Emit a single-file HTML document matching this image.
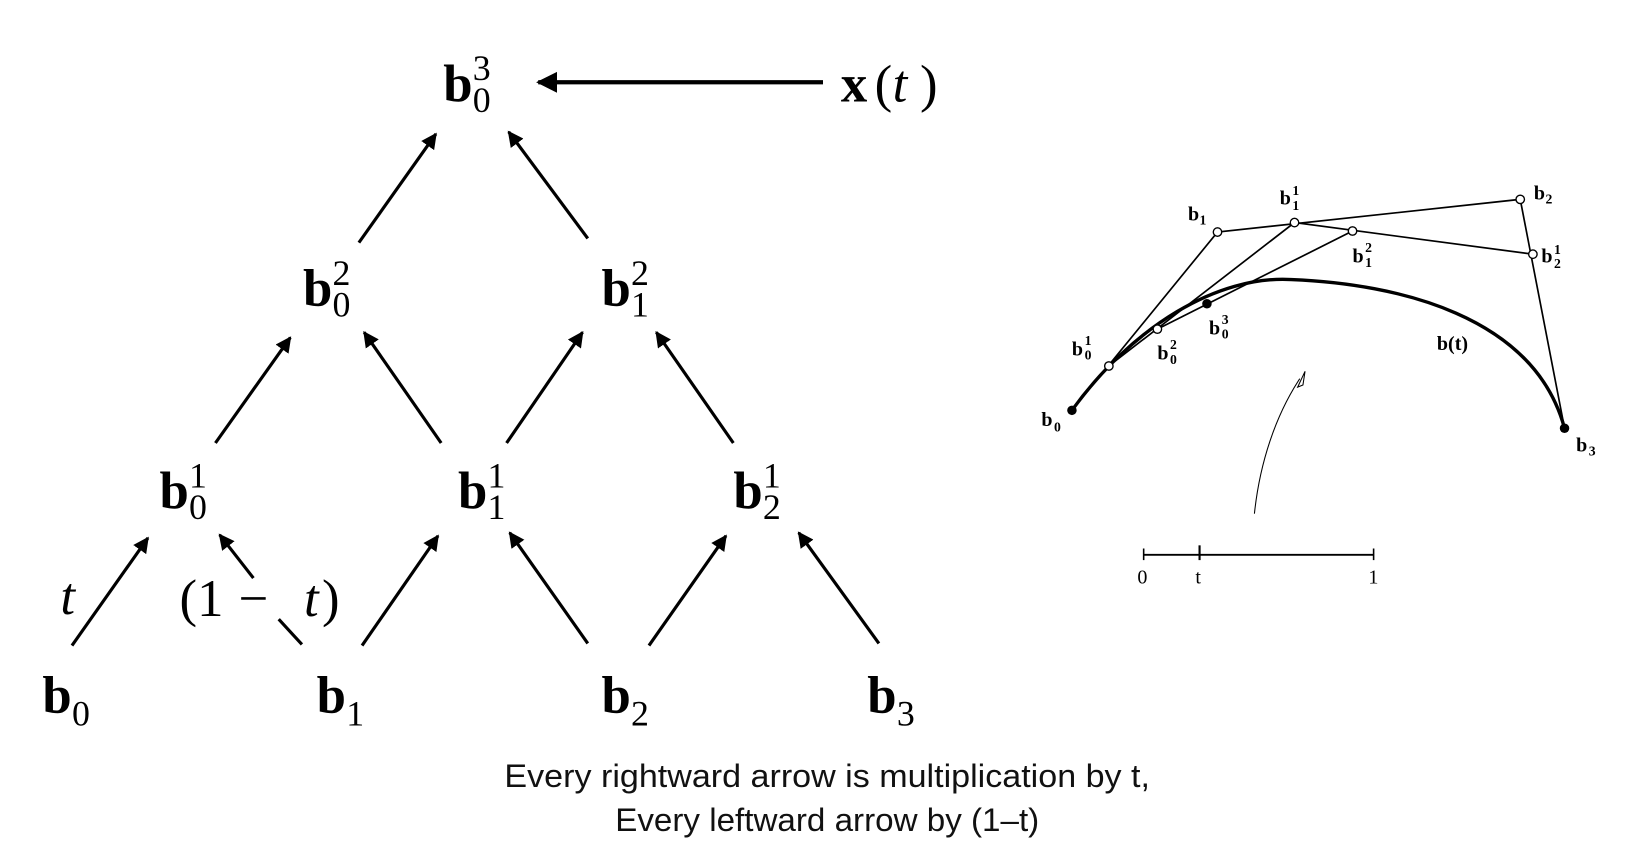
<!DOCTYPE html>
<html><head><meta charset="utf-8"><style>
html,body{margin:0;padding:0;background:#fff;width:1646px;height:866px;overflow:hidden}
svg{display:block}
.b{font-family:"Liberation Serif",serif;font-weight:bold;font-size:50px}
.n{font-family:"Liberation Serif",serif;font-size:34px}
.i{font-family:"Liberation Serif",serif;font-style:italic;font-size:50px}
.r{font-family:"Liberation Serif",serif;font-size:50px}
.sb{font-family:"Liberation Serif",serif;font-weight:bold;font-size:19px}
.ss{font-family:"Liberation Serif",serif;font-weight:bold;font-size:13px}
.cap{font-family:"Liberation Sans",sans-serif;font-size:31px;fill:#111}
</style></head><body>
<svg width="1646" height="866" viewBox="0 0 1560 821" xmlns="http://www.w3.org/2000/svg">
<defs>
<marker id="ah" viewBox="0 0 10 10" refX="9" refY="5" markerWidth="5" markerHeight="5" orient="auto" markerUnits="strokeWidth">
<path d="M0,0 L10,5 L0,10 z" fill="#000"/></marker>
</defs>
<g>
<text class="b" x="420" y="96">b</text><text class="n" x="448" y="76">3</text><text class="n" x="448" y="106">0</text>
<text class="b" x="287" y="290">b</text><text class="n" x="315" y="270">2</text><text class="n" x="315" y="300">0</text>
<text class="b" x="570" y="290">b</text><text class="n" x="598" y="270">2</text><text class="n" x="598" y="300">1</text>
<text class="b" x="151" y="482">b</text><text class="n" x="179" y="462">1</text><text class="n" x="179" y="492">0</text>
<text class="b" x="434" y="482">b</text><text class="n" x="462" y="462">1</text><text class="n" x="462" y="492">1</text>
<text class="b" x="695" y="482">b</text><text class="n" x="723" y="462">1</text><text class="n" x="723" y="492">2</text>
<text class="b" x="40" y="676">b</text><text class="n" x="68" y="688">0</text>
<text class="b" x="300" y="676">b</text><text class="n" x="328" y="688">1</text>
<text class="b" x="570" y="676">b</text><text class="n" x="598" y="688">2</text>
<text class="b" x="822" y="676">b</text><text class="n" x="850" y="688">3</text>
<text class="b" x="797" y="96">x</text><text class="r" x="829" y="96">(</text><text class="i" x="846" y="96">t</text><text class="r" x="872" y="96">)</text>
<text class="i" x="57" y="582">t</text>
<text class="r" x="170" y="584">(1</text><text class="r" x="226" y="584">−</text><text class="i" x="288" y="584">t</text><text class="r" x="305" y="584">)</text>
</g>
<g stroke="#000" stroke-width="3" fill="none" marker-end="url(#ah)">
<line x1="780" y1="78" x2="510" y2="78" stroke-width="4"/>
<line x1="340" y1="230" x2="413" y2="127"/>
<line x1="557" y1="226" x2="482" y2="125"/>
<line x1="204" y1="420" x2="275" y2="320"/>
<line x1="418" y1="420" x2="345" y2="315"/>
<line x1="480" y1="420" x2="552" y2="315"/>
<line x1="695" y1="420" x2="622" y2="315"/>
<line x1="68" y1="612" x2="140" y2="510"/>
<line x1="240" y1="548" x2="208" y2="507"/>
<line x1="343" y1="612" x2="415" y2="508"/>
<line x1="557" y1="610" x2="483" y2="505"/>
<line x1="615" y1="612" x2="688" y2="508"/>
<line x1="833" y1="610" x2="757" y2="505"/>
</g>
<line x1="264" y1="587" x2="286" y2="611" stroke="#000" stroke-width="3"/>
<text class="cap" x="478" y="746" textLength="612" lengthAdjust="spacingAndGlyphs">Every rightward arrow is multiplication by t,</text>
<text class="cap" x="583" y="788" textLength="402" lengthAdjust="spacingAndGlyphs">Every leftward arrow by (1–t)</text>
<g transform="translate(-6,-1)">
<g stroke="#000" fill="none">
<path d="M1022,390 C1080,310 1160,262 1230,266 C1330,270 1460,300 1489,407" stroke-width="3.2"/>
<polyline points="1022,390 1160,221 1447,190 1489,407" stroke-width="1.6"/>
<polyline points="1057,348 1233,212 1459,242" stroke-width="1.6"/>
<polyline points="1103,313 1288,220" stroke-width="1.6"/>
<path d="M1195,488 C1200,440 1215,395 1238,360" stroke-width="1"/>
<path d="M1236,368 L1243,353 L1241,366 z" stroke-width="1" fill="#fff"/>
<line x1="1090" y1="527" x2="1308" y2="527" stroke-width="1.8"/>
<line x1="1090" y1="521" x2="1090" y2="532" stroke-width="1.5"/>
<line x1="1143" y1="518" x2="1143" y2="532" stroke-width="2"/>
<line x1="1308" y1="521" x2="1308" y2="532" stroke-width="1.5"/>
</g>
<g stroke="#000" stroke-width="1.3" fill="#fff">
<circle cx="1160" cy="221" r="4"/><circle cx="1447" cy="190" r="4"/>
<circle cx="1057" cy="348" r="4"/><circle cx="1233" cy="212" r="4"/><circle cx="1459" cy="242" r="4"/>
<circle cx="1103" cy="313" r="4"/><circle cx="1288" cy="220" r="4"/>
</g>
<g fill="#000"><circle cx="1022" cy="390" r="4.5"/><circle cx="1489" cy="407" r="4.5"/><circle cx="1150" cy="289" r="4.5"/></g>
<g>
<text class="sb" x="1132" y="210">b</text><text class="ss" x="1143" y="214">1</text>
<text class="sb" x="1219" y="195">b</text><text class="ss" x="1231" y="186">1</text><text class="ss" x="1231" y="200">1</text>
<text class="sb" x="1460" y="190">b</text><text class="ss" x="1471" y="194">2</text>
<text class="sb" x="1288" y="250">b</text><text class="ss" x="1300" y="240">2</text><text class="ss" x="1300" y="254">1</text>
<text class="sb" x="1467" y="250">b</text><text class="ss" x="1479" y="242">1</text><text class="ss" x="1479" y="255">2</text>
<text class="sb" x="1152" y="318">b</text><text class="ss" x="1164" y="308">3</text><text class="ss" x="1164" y="322">0</text>
<text class="sb" x="1022" y="338">b</text><text class="ss" x="1034" y="328">1</text><text class="ss" x="1034" y="342">0</text>
<text class="sb" x="1103" y="342">b</text><text class="ss" x="1115" y="332">2</text><text class="ss" x="1115" y="346">0</text>
<text class="sb" x="1368" y="333">b(t)</text>
<text class="sb" x="993" y="405">b</text><text class="ss" x="1005" y="410">0</text>
<text class="sb" x="1500" y="429">b</text><text class="ss" x="1512" y="433">3</text>
<text class="sb" x="1084" y="554" style="font-weight:normal">0</text>
<text class="sb" x="1139" y="554" style="font-weight:normal">t</text>
<text class="sb" x="1303" y="554" style="font-weight:normal">1</text>
</g>
</g>
</svg>
</body></html>
